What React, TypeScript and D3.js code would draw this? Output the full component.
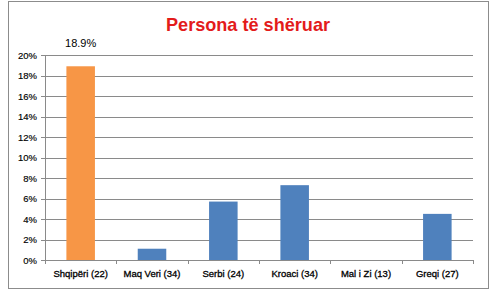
import React from "react";
import * as d3 from "d3";

const categories = ["Shqipëri (22)", "Maq Veri (34)", "Serbi (24)", "Kroaci (34)", "Mal i Zi (13)", "Greqi (27)"];
const values = [18.9, 1.1, 5.7, 7.3, 0, 4.5];
const highlight = [true, false, false, false, false, false];
const yTicks = [0, 2, 4, 6, 8, 10, 12, 14, 16, 18, 20];
const title = "Persona të shëruar";
const dataLabel = "18.9%";

export default function App() {
  const W = 495, H = 292;
  const left = 45, right = 473, top = 55, bottom = 260;
  const x = d3.scaleBand<string>().domain(categories).range([left, right]).paddingInner(0.6).paddingOuter(0.3);
  const y = d3.scaleLinear().domain([0, 20]).range([bottom, top]);
  const step = x.step();
  const font = "'Liberation Sans', Arial, sans-serif";
  return (
    <svg width={W} height={H} style={{ position: "absolute", left: 0, top: 0 }}>
      <rect x={0} y={0} width={W} height={H} fill="#fff" />
      <rect x={8.5} y={1.5} width={480} height={287} fill="#fff" stroke="#8c8c8c" strokeWidth={1} />
      <text x={248} y={31} textAnchor="middle" fontFamily={font} fontWeight="bold" fontSize={19} fill="#e31b1b" textLength={164} lengthAdjust="spacingAndGlyphs">{title}</text>
      {yTicks.map((t) => (
        <g key={t}>
          {t > 0 && <line x1={left} x2={right} y1={Math.round(y(t)) + 0.5} y2={Math.round(y(t)) + 0.5} stroke="#8a8a8a" strokeWidth={1} />}
          <line x1={left - 4} x2={left} y1={Math.round(y(t)) + 0.5} y2={Math.round(y(t)) + 0.5} stroke="#8a8a8a" />
          <text x={37} y={y(t) + 3.5} textAnchor="end" fontFamily={font} fontSize={9.5} fill="#000" stroke="#000" strokeWidth={0.15}>{t + "%"}</text>
        </g>
      ))}
      <line x1={left + 0.5} x2={left + 0.5} y1={top} y2={bottom} stroke="#8a8a8a" />
      <line x1={left} x2={right} y1={bottom + 0.5} y2={bottom + 0.5} stroke="#8a8a8a" />
      {d3.range(categories.length + 1).map((i) => (
        <line key={i} x1={Math.round(left + i * step) + 0.5} x2={Math.round(left + i * step) + 0.5} y1={bottom} y2={bottom + 4} stroke="#8a8a8a" />
      ))}
      {categories.map((c, i) => (
        <g key={c}>
          {values[i] > 0 && (
            <rect x={x(c)} y={y(values[i])} width={x.bandwidth()} height={bottom - y(values[i])} fill={highlight[i] ? "#f79646" : "#4f81bd"} />
          )}
          <text x={(x(c) as number) + x.bandwidth() / 2} y={277} textAnchor="middle" fontFamily={font} fontSize={9.5} fill="#000" stroke="#000" strokeWidth={0.3}>{c}</text>
        </g>
      ))}
      <text x={(x(categories[0]) as number) + x.bandwidth() / 2} y={47} textAnchor="middle" fontFamily={font} fontSize={11} fill="#000">{dataLabel}</text>
    </svg>
  );
}
